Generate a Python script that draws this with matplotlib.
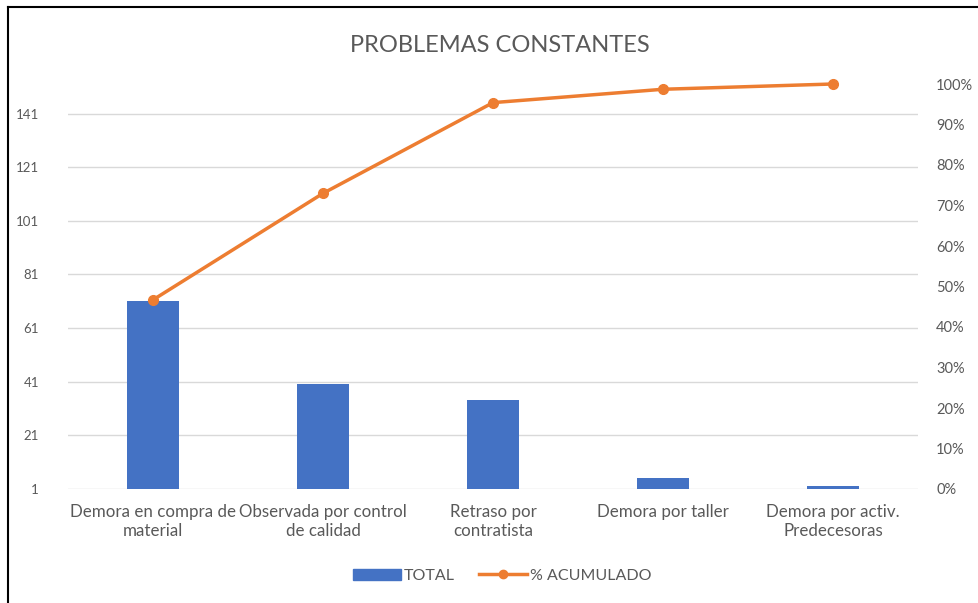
import matplotlib.pyplot as plt
from matplotlib.lines import Line2D
from matplotlib.patches import Patch

categorias = ["Demora en compra de\nmaterial", "Observada por control\nde calidad",
              "Retraso por\ncontratista", "Demora por taller",
              "Demora por activ.\nPredecesoras"]
total = [71, 40, 34, 5, 2]
acumulado = [46.7, 73.0, 95.4, 98.7, 100.0]
ticks_izq = [1, 21, 41, 61, 81, 101, 121, 141]
ticks_der = [0, 10, 20, 30, 40, 50, 60, 70, 80, 90, 100]

azul = "#4472C4"
naranja = "#ED7D31"
gris = "#595959"

plt.rcParams['font.family'] = ['Lato', 'DejaVu Sans']

fig = plt.figure(figsize=(9.79, 6.03), dpi=100)
ax = fig.add_axes([68 / 979, 1 - 489 / 603, 850 / 979, 405 / 603])
x = list(range(len(categorias)))

for y in ticks_izq:
    ax.axhline(y, color="#D9D9D9", linewidth=1, zorder=0)
ax.bar(x, total, width=0.31, bottom=0, color=azul, zorder=2)
ax.set_ylim(1, sum(total))
ax.set_xlim(-0.5, len(categorias) - 0.5)
ax.set_yticks(ticks_izq)
ax.set_xticks(x)
ax.set_xticklabels(categorias, fontsize=12.2, color=gris)
ax.tick_params(axis="y", labelsize=9.5, labelcolor=gris, length=0, pad=21)
ax.tick_params(axis="x", length=0, pad=11)
for s in ax.spines.values():
    s.set_visible(False)

ax2 = ax.twinx()
ax2.plot(x, acumulado, color=naranja, linewidth=2.5, marker="o", markersize=7,
         zorder=3, clip_on=False)
ax2.set_ylim(0, 100)
ax2.set_yticks(ticks_der)
ax2.set_yticklabels([f"{t}%" for t in ticks_der])
ax2.tick_params(axis="y", labelsize=10.5, labelcolor=gris, length=0, pad=13)
for s in ax2.spines.values():
    s.set_visible(False)

fig.text(500 / 979, 1 - 45 / 603, "PROBLEMAS CONSTANTES", ha="center", va="center",
         fontsize=17, color=gris)

handles = [Patch(color=azul), Line2D([0], [0], color=naranja, linewidth=2.5, marker="o", markersize=6)]
fig.legend(handles, ["TOTAL", "% ACUMULADO"], loc="center", bbox_to_anchor=(502 / 979, 1 - 576 / 603),
           ncol=2, frameon=False, fontsize=11.5, labelcolor=gris, handlelength=3,
           handletextpad=0.2, columnspacing=1.5)

# marco
fig.add_artist(Line2D([8 / 979, 8 / 979], [0, 1 - 7 / 603], color="black", linewidth=1.5))
fig.add_artist(Line2D([8 / 979, 1], [1 - 7 / 603, 1 - 7 / 603], color="black", linewidth=1.5))

fig.savefig("out.png", dpi=100, facecolor="white")
